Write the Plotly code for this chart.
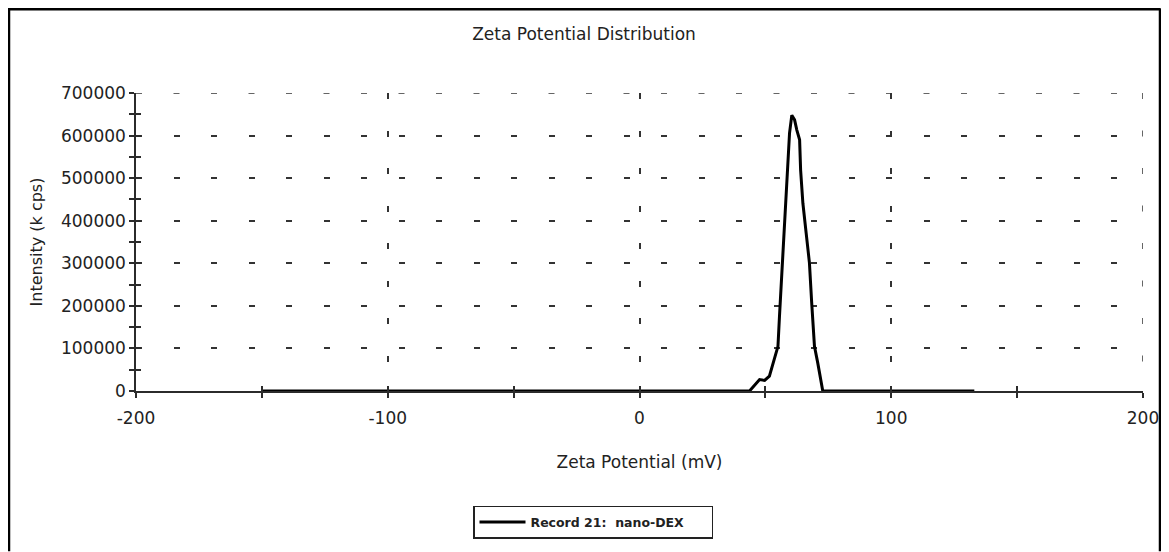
import plotly.graph_objects as go

# ---- data ----
zeta_mv = [-150, -100, -50, 0, 40, 43.7, 47.7, 49.7, 51.6, 53.0, 55.0, 55.6, 56.3, 56.9,
           57.6, 58.3, 58.9, 59.6, 60.5, 61.6, 62.5, 63.6, 64.0, 64.9, 66.2, 67.5,
           68.4, 69.5, 70.8, 72.2, 72.8, 100, 133]
intensity_kcps = [0, 0, 0, 0, 0, 0, 27000, 25000, 35000, 66000, 105000, 175000, 254000, 332000,
                  402000, 473000, 535000, 606000, 648000, 637000, 613000, 590000, 519000, 441000,
                  371000, 301000, 207000, 105000, 66000, 19000, 0, 0, 0]
series_name = "Record 21:  nano-DEX"

x_range = [-200, 200]
y_range = [0, 700000]
x_tick_vals = [-200, -100, 0, 100, 200]
x_tick_text = ["-200", "-100", "0", "100", "200"]
y_tick_vals = [0, 100000, 200000, 300000, 400000, 500000, 600000, 700000]
y_tick_text = ["0", "100000", "200000", "300000", "400000", "500000", "600000", "700000"]

title_text = "Zeta Potential Distribution"
x_title = "Zeta Potential (mV)"
y_title = "Intensity (k cps)"

FONT = "DejaVu Sans"
AX = "#2b2b2b"
TXT = "#222"
GRID_DASH = "6px,31.5px"

# figure geometry (page has an 8px body margin)
W, H = 1153, 544
L, T = 128, 85
PW, PH = 1007, 298.5
R = W - L - PW
B = H - T - PH

fig = go.Figure()
fig.add_trace(go.Scatter(x=zeta_mv, y=intensity_kcps, mode="lines", name=series_name,
                         line=dict(color="black", width=3), showlegend=True))
# empty trace for the overlay axes that carry the inner half of the tick marks
fig.add_trace(go.Scatter(x=[], y=[], xaxis="x2", yaxis="y2", showlegend=False,
                         hoverinfo="skip"))

tick_common = dict(ticklen=5, tickwidth=1.5, tickcolor=AX)

fig.update_layout(
    width=W, height=H,
    paper_bgcolor="white", plot_bgcolor="white",
    margin=dict(l=L, r=R, t=T, b=B, autoexpand=False),
    font=dict(family=FONT, color=TXT),
    title=dict(text=title_text, x=(576 - L) / PW, xref="paper", xanchor="center",
               y=1 - 26 / H, yanchor="middle", font=dict(size=17, family=FONT, color=TXT)),
    xaxis=dict(range=x_range, tickvals=x_tick_vals, ticktext=x_tick_text,
               showline=True, linecolor=AX, linewidth=1.5,
               ticks="outside", **tick_common,
               minor=dict(dtick=50, tick0=0, ticks="outside", showgrid=False, **tick_common),
               showgrid=True, gridcolor="#333", gridwidth=1.5, griddash=GRID_DASH,
               zeroline=False, tickfont=dict(size=17, family=FONT, color=TXT),
               ticklabelstandoff=6,
               title=dict(text=x_title, font=dict(size=17, family=FONT, color=TXT),
                          standoff=29)),
    yaxis=dict(range=y_range, tickvals=y_tick_vals, ticktext=y_tick_text,
               showline=True, linecolor=AX, linewidth=1.5,
               ticks="outside", **tick_common,
               minor=dict(dtick=50000, tick0=0, ticks="outside", showgrid=False, **tick_common),
               showgrid=True, gridcolor="#333", gridwidth=1.5, griddash=GRID_DASH,
               zeroline=False, tickfont=dict(size=17, family=FONT, color=TXT),
               title=dict(text=y_title, font=dict(size=16, family=FONT, color=TXT),
                          standoff=14)),
    xaxis2=dict(overlaying="x", anchor="y", range=x_range, tickvals=x_tick_vals,
                showticklabels=False, showgrid=False, zeroline=False, showline=False,
                ticks="inside", **tick_common,
                minor=dict(dtick=50, tick0=0, ticks="inside", showgrid=False, **tick_common)),
    yaxis2=dict(overlaying="y", anchor="x", range=y_range, tickvals=y_tick_vals,
                showticklabels=False, showgrid=False, zeroline=False, showline=False,
                ticks="inside", **tick_common,
                minor=dict(dtick=50000, tick0=0, ticks="inside", showgrid=False, **tick_common)),
    legend=dict(x=(585 - L) / PW, xanchor="center", xref="paper",
                y=(T + PH - 515) / PH, yanchor="middle", yref="paper",
                orientation="h", entrywidth=176, entrywidthmode="pixels",
                bordercolor="#222", borderwidth=1.5, bgcolor="white",
                font=dict(size=12.5, family=FONT, color=TXT, weight="bold"),
                itemwidth=46),
    showlegend=True,
)

# gridlines at the range ends (plotly clips these)
grid_line = dict(color="#333", width=1.5, dash=GRID_DASH)
fig.add_shape(type="line", xref="x", yref="y", x0=x_range[0], x1=x_range[1],
              y0=y_range[1], y1=y_range[1], line=grid_line, layer="below")
fig.add_shape(type="line", xref="x", yref="y", x0=x_range[1], x1=x_range[1],
              y0=y_range[1], y1=y_range[0], line=grid_line, layer="below")

# outer frame of the exported picture (left, top, right edges)
def fx(px):
    return (px - L) / PW
def fy(py):
    return (T + PH - py) / PH
frame = dict(type="line", xref="paper", yref="paper", line=dict(color="black", width=2.5))
fig.add_shape(**frame, x0=fx(1), x1=fx(1), y0=fy(0), y1=fy(H))
fig.add_shape(**frame, x0=fx(0), x1=fx(1152), y0=fy(1), y1=fy(1))
fig.add_shape(**frame, x0=fx(1152), x1=fx(1152), y0=fy(0), y1=fy(H))

fig.write_html("out.html")
